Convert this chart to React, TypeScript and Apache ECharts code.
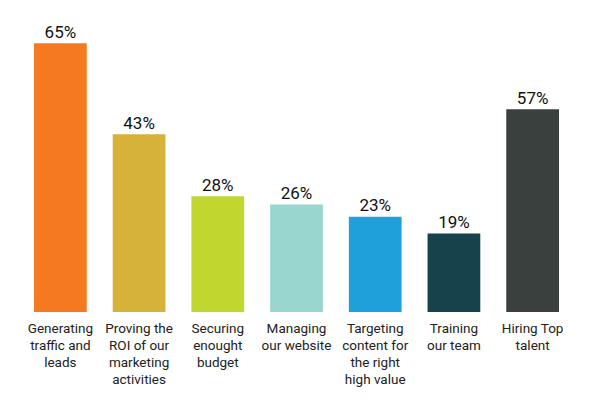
import React, { useEffect, useRef } from "react";
import * as echarts from "echarts";

const categories = [
  "Generating\ntraffic and\nleads",
  "Proving the\nROI of our\nmarketing\nactivities",
  "Securing\nenought\nbudget",
  "Managing\nour website",
  "Targeting\ncontent for\nthe right\nhigh value",
  "Training\nour team",
  "Hiring Top\ntalent",
];
// bar heights as drawn in the picture
const barValues = [65, 43, 28, 26, 23, 19, 49];
// value labels as printed above the bars
const valueLabels = ["65%", "43%", "28%", "26%", "23%", "19%", "57%"];
const colors = ["#F47920", "#D6B23A", "#C1D72F", "#98D6CF", "#1FA0DA", "#16424B", "#3A403E"];

export default function App() {
  const ref = useRef<HTMLDivElement>(null);
  useEffect(() => {
    document.body.style.margin = "0";
    const chart = echarts.init(ref.current!, null, { renderer: "svg" });
    chart.setOption({
      animation: false,
      backgroundColor: "#ffffff",
      grid: { left: 21, right: 28, top: 39, bottom: 102, containLabel: false },
      xAxis: {
        type: "category",
        data: categories,
        axisLine: { show: false },
        axisTick: { show: false },
        axisLabel: {
          interval: 0,
          margin: 7,
          color: "#222222",
          fontFamily: "Roboto",
          fontSize: 13.5,
          lineHeight: 17,
          align: "center",
        },
      },
      yAxis: {
        type: "value",
        min: 0,
        max: 66,
        show: false,
        splitLine: { show: false },
      },
      series: [
        {
          type: "bar",
          barCategoryGap: "33%",
          data: barValues.map((v, i) => ({
            value: v,
            itemStyle: { color: colors[i] },
          })),
          label: {
            show: true,
            position: "top",
            distance: 3,
            color: "#111111",
            fontFamily: "Roboto",
            fontSize: 17,
            formatter: (p: any) => valueLabels[p.dataIndex],
          },
        },
      ],
    });
    return () => chart.dispose();
  }, []);
  return <div ref={ref} style={{ width: 600, height: 414 }} />;
}
